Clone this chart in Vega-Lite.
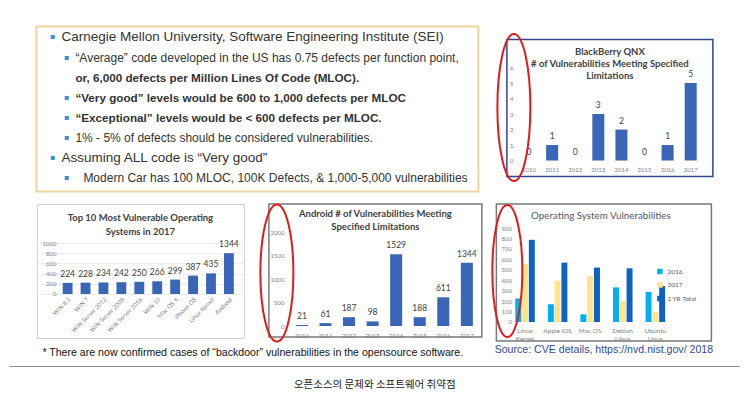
{
  "$schema": "https://vega.github.io/schema/vega-lite/v6.json",
  "background": "white",
  "padding": {"left": 8.5, "top": 23.5, "right": 0, "bottom": 0},
  "spacing": 6.5,
  "center": true,
  "resolve": {"legend": {"color": "independent"}},
  "vconcat": [
    {
      "hconcat": [
        {
          "width": 442,
          "height": 165,
          "view": {"stroke": "#f0d49c", "strokeWidth": 2, "fill": "#ffffff"},
          "data": {"values": [
            {"line": 1, "level": 1, "bullet": true, "weight": "normal", "extra_indent": false, "text": "Carnegie Mellon University, Software Engineering Institute (SEI)"},
            {"line": 2, "level": 2, "bullet": true, "weight": "normal", "extra_indent": false, "text": "“Average” code developed in the US has 0.75 defects per function point,"},
            {"line": 3, "level": 2, "bullet": false, "weight": "bold", "extra_indent": false, "text": "or, 6,000 defects per Million Lines Of Code (MLOC)."},
            {"line": 4, "level": 2, "bullet": true, "weight": "bold", "extra_indent": false, "text": "“Very good” levels would be 600 to 1,000 defects per MLOC"},
            {"line": 5, "level": 2, "bullet": true, "weight": "bold", "extra_indent": false, "text": "“Exceptional” levels would be < 600 defects per MLOC."},
            {"line": 6, "level": 2, "bullet": true, "weight": "normal", "extra_indent": false, "text": "1% - 5% of defects should be considered vulnerabilities."},
            {"line": 7, "level": 1, "bullet": true, "weight": "normal", "extra_indent": false, "text": "Assuming ALL code is “Very good”"},
            {"line": 8, "level": 2, "bullet": true, "weight": "normal", "extra_indent": true, "text": "Modern Car has 100 MLOC, 100K Defects, & 1,000-5,000 vulnerabilities"}
          ]},
          "encoding": {
            "x": {"field": "level", "type": "quantitative", "scale": {"domain": [-0.786, 30.786], "nice": false, "zero": false}, "axis": null},
            "y": {"field": "line", "type": "quantitative", "scale": {"domain": [0.454, 8.646], "reverse": true, "nice": false, "zero": false}, "axis": null}
          },
          "layer": [
            {
              "transform": [{"filter": "datum.weight == 'normal' && !datum.extra_indent"}],
              "mark": {"type": "text", "align": "left", "baseline": "middle", "font": "Liberation Sans", "color": "#333333"},
              "encoding": {
                "text": {"field": "text", "type": "nominal"},
                "size": {"field": "level", "type": "ordinal", "scale": {"domain": [1, 2], "range": [13.5, 12]}, "legend": null}
              }
            },
            {
              "transform": [{"filter": "datum.extra_indent"}],
              "mark": {"type": "text", "align": "left", "baseline": "middle", "dx": 8, "font": "Liberation Sans", "fontSize": 12, "color": "#333333"},
              "encoding": {"text": {"field": "text", "type": "nominal"}}
            },
            {
              "transform": [{"filter": "datum.weight == 'bold'"}],
              "mark": {"type": "text", "align": "left", "baseline": "middle", "font": "Liberation Sans", "fontWeight": "bold", "fontSize": 11.7, "color": "#333333"},
              "encoding": {"text": {"field": "text", "type": "nominal"}}
            },
            {
              "transform": [{"filter": "datum.bullet"}],
              "mark": {"type": "text", "align": "center", "baseline": "middle", "dx": -9, "font": "DejaVu Sans", "fontSize": 8, "color": "#3c8dd0"},
              "encoding": {"text": {"value": "▪"}}
            }
          ]
        },
        {
          "vconcat": [
            {
              "width": 206,
              "height": 1,
              "data": {"values": [{"spacer": 1}]},
              "mark": {"type": "point", "opacity": 0},
              "encoding": {}
            },
            {
              "width": 206,
              "height": 137,
              "view": {"stroke": "#2f4593", "strokeWidth": 1.5},
              "title": {"text": ["BlackBerry QNX", "# of Vulnerabilities Meeting Specified", "Limitations"], "anchor": "middle", "frame": "group", "offset": -50, "lineHeight": 12},
              "layer": [
                {
                  "data": {"values": [
                    {"year": "2010", "vulnerabilities": 0},
                    {"year": "2011", "vulnerabilities": 1},
                    {"year": "2012", "vulnerabilities": 0},
                    {"year": "2013", "vulnerabilities": 3},
                    {"year": "2014", "vulnerabilities": 2},
                    {"year": "2015", "vulnerabilities": 0},
                    {"year": "2016", "vulnerabilities": 1},
                    {"year": "2017", "vulnerabilities": 5}
                  ]},
                  "encoding": {
                    "x": {"field": "year", "type": "ordinal", "scale": {"paddingInner": 0.48, "paddingOuter": 0.7}, "axis": {"title": null, "labelAngle": 0, "labelBaseline": "top", "labelPadding": 0, "offset": -10}},
                    "y": {"field": "vulnerabilities", "type": "quantitative", "scale": {"domain": [-1.03, 7.81], "nice": false}, "axis": {"title": null, "values": [0, 1, 2, 3, 4, 5, 6], "format": "d", "offset": -7, "labelPadding": 1}}
                  },
                  "layer": [
                    {"mark": {"type": "bar", "color": "#3a66b7"}},
                    {"mark": {"type": "text", "baseline": "alphabetic", "dy": -6, "fontSize": 8.5, "color": "#404040"}, "encoding": {"text": {"field": "vulnerabilities", "type": "quantitative"}}}
                  ]
                },
                {
                  "data": {"values": [{"highlight": "y axis"}]},
                  "mark": {"type": "point", "shape": "M0,-1A0.2245,1,0,1,1,0,1A0.2245,1,0,1,1,0,-1Z", "filled": false, "color": "#e3191c", "strokeWidth": 2, "opacity": 1, "size": 21609},
                  "encoding": {
                    "x": {"datum": 0.034, "type": "quantitative", "scale": {"domain": [0, 1], "nice": false, "zero": false}, "axis": null},
                    "y": {"datum": 3.42, "type": "quantitative", "axis": {"title": null, "values": [0, 1, 2, 3, 4, 5, 6], "format": "d", "offset": -7, "labelPadding": 1}}
                  }
                }
              ],
              "resolve": {"scale": {"x": "independent"}}
            }
          ],
          "spacing": 12,
          "bounds": "flush"
        }
      ],
      "spacing": 12.5
    },
    {
      "hconcat": [
        {
          "hconcat": [
            {
              "width": 207,
              "height": 134,
              "view": {"stroke": "#d0d0d0", "strokeWidth": 1},
              "title": {"text": ["Top 10 Most Vulnerable Operating", "Systems in 2017"], "anchor": "middle", "frame": "group", "offset": -32, "lineHeight": 14},
              "data": {"values": [
                {"os": "WIN 8.1", "vulnerabilities": 224, "vulnerabilities_as_drawn": 218},
                {"os": "WIN 7", "vulnerabilities": 228, "vulnerabilities_as_drawn": 222},
                {"os": "WIN Server 2012", "vulnerabilities": 234, "vulnerabilities_as_drawn": 226},
                {"os": "WIN Server 2008", "vulnerabilities": 242, "vulnerabilities_as_drawn": 232},
                {"os": "WIN Server 2016", "vulnerabilities": 250, "vulnerabilities_as_drawn": 240},
                {"os": "WIN 10", "vulnerabilities": 266, "vulnerabilities_as_drawn": 250},
                {"os": "Mac OS X", "vulnerabilities": 299, "vulnerabilities_as_drawn": 283},
                {"os": "iPhone OS", "vulnerabilities": 387, "vulnerabilities_as_drawn": 360},
                {"os": "Linux Kernel", "vulnerabilities": 435, "vulnerabilities_as_drawn": 405},
                {"os": "Android", "vulnerabilities": 1344, "vulnerabilities_as_drawn": 800}
              ]},
              "encoding": {
                "x": {"field": "os", "type": "nominal", "sort": null, "scale": {"paddingInner": 0.45, "paddingOuter": 1.158, "align": 0.72}, "axis": {"title": null, "labelAngle": -45, "labelAlign": "right", "labelBaseline": "top", "labelPadding": 2, "offset": -44}},
                "y": {"field": "vulnerabilities_as_drawn", "type": "quantitative", "scale": {"domain": [-863, 1765], "nice": false}, "axis": {"title": null, "values": [0, 200, 400, 600, 800, 1000], "format": "d", "offset": -21, "labelPadding": 2, "grid": true, "gridColor": "#ededed"}}
              },
              "layer": [
                {"mark": {"type": "bar", "color": "#3a66b7"}},
                {"mark": {"type": "text", "baseline": "alphabetic", "dy": -6, "fontSize": 8.5, "color": "#404040"}, "encoding": {"text": {"field": "vulnerabilities", "type": "quantitative"}}}
              ]
            },
            {
              "width": 213,
              "height": 133,
              "view": {"stroke": "#7a7a7a", "strokeWidth": 1.5},
              "title": {"text": ["Android # of Vulnerabilities Meeting", "Specified Limitations"], "anchor": "middle", "frame": "group", "offset": -31, "lineHeight": 13},
              "layer": [
                {
                  "data": {"values": [
                    {"year": "2010", "vulnerabilities": 21},
                    {"year": "2011", "vulnerabilities": 61},
                    {"year": "2012", "vulnerabilities": 187},
                    {"year": "2013", "vulnerabilities": 98},
                    {"year": "2014", "vulnerabilities": 1529},
                    {"year": "2015", "vulnerabilities": 188},
                    {"year": "2016", "vulnerabilities": 611},
                    {"year": "2017", "vulnerabilities": 1344}
                  ]},
                  "encoding": {
                    "x": {"field": "year", "type": "ordinal", "scale": {"paddingInner": 0.49, "paddingOuter": 0.764, "align": 0.75}, "axis": {"title": null, "labelAngle": 0, "labelBaseline": "top", "labelPadding": 0, "offset": -5}},
                    "y": {"field": "vulnerabilities", "type": "quantitative", "scale": {"domain": [-234, 2596], "nice": false}, "axis": {"title": null, "values": [0, 500, 1000, 1500, 2000], "format": "d", "offset": -16, "labelPadding": 1}}
                  },
                  "layer": [
                    {"mark": {"type": "bar", "color": "#3a66b7"}},
                    {"mark": {"type": "text", "baseline": "alphabetic", "dy": -6, "fontSize": 8.5, "color": "#404040"}, "encoding": {"text": {"field": "vulnerabilities", "type": "quantitative"}}}
                  ]
                },
                {
                  "data": {"values": [{"highlight": "y axis"}]},
                  "mark": {"type": "point", "shape": "M0,-1A0.241,1,0,1,1,0,1A0.241,1,0,1,1,0,-1Z", "filled": false, "color": "#e3191c", "strokeWidth": 2, "opacity": 1, "size": 18769},
                  "encoding": {
                    "x": {"datum": 0.0376, "type": "quantitative", "scale": {"domain": [0, 1], "nice": false, "zero": false}, "axis": null},
                    "y": {"datum": 1128, "type": "quantitative", "axis": {"title": null, "values": [0, 500, 1000, 1500, 2000], "format": "d", "offset": -16, "labelPadding": 1}}
                  }
                }
              ],
              "resolve": {"scale": {"x": "independent"}}
            }
          ],
          "spacing": 25,
          "bounds": "flush",
          "title": {"text": "* There are now confirmed cases of “backdoor” vulnerabilities in the opensource software.", "orient": "bottom", "anchor": "start", "font": "Liberation Sans", "fontSize": 10.6, "fontWeight": "normal", "color": "#111111", "offset": 1.5, "dx": 6}
        },
        {
          "hconcat": [
            {
              "width": 215,
              "height": 137,
              "view": {"stroke": "#7a7a7a", "strokeWidth": 1.5},
              "title": {"text": "Operating System Vulnerabilities", "fontWeight": "normal", "fontSize": 9.8, "color": "#595959", "anchor": "middle", "frame": "group", "offset": -19.5, "dx": -3},
              "layer": [
                {
                  "data": {"values": [
                    {"os": "Linux Kernel", "period": "2016", "vulnerabilities": 225},
                    {"os": "Linux Kernel", "period": "2017", "vulnerabilities": 556},
                    {"os": "Linux Kernel", "period": "2 YR Total", "vulnerabilities": 787},
                    {"os": "Apple iOS", "period": "2016", "vulnerabilities": 170},
                    {"os": "Apple iOS", "period": "2017", "vulnerabilities": 395},
                    {"os": "Apple iOS", "period": "2 YR Total", "vulnerabilities": 569},
                    {"os": "Mac OS", "period": "2016", "vulnerabilities": 74},
                    {"os": "Mac OS", "period": "2017", "vulnerabilities": 440},
                    {"os": "Mac OS", "period": "2 YR Total", "vulnerabilities": 521},
                    {"os": "Debian Linux", "period": "2016", "vulnerabilities": 331},
                    {"os": "Debian Linux", "period": "2017", "vulnerabilities": 199},
                    {"os": "Debian Linux", "period": "2 YR Total", "vulnerabilities": 514},
                    {"os": "Ubuntu Linux", "period": "2016", "vulnerabilities": 289},
                    {"os": "Ubuntu Linux", "period": "2017", "vulnerabilities": 96},
                    {"os": "Ubuntu Linux", "period": "2 YR Total", "vulnerabilities": 344}
                  ]},
                  "mark": {"type": "bar"},
                  "encoding": {
                    "x": {"field": "os", "type": "nominal", "sort": null, "scale": {"paddingInner": 0.4, "paddingOuter": 1.61, "align": 0.29}, "axis": {"title": null, "labelAngle": 0, "labelBaseline": "top", "labelPadding": 0, "offset": -14, "labelFontSize": 6.5, "labelLineHeight": 8, "labelExpr": "indexof(datum.label, 'Linux') >= 0 ? split(datum.label, ' ') : datum.label"}},
                    "xOffset": {"field": "period", "type": "nominal", "sort": ["2016", "2017", "2 YR Total"], "scale": {"paddingInner": 0.12}},
                    "y": {"field": "vulnerabilities", "type": "quantitative", "scale": {"domain": [-182, 1130], "nice": false}, "axis": {"title": null, "values": [0, 100, 200, 300, 400, 500, 600, 700, 800, 900], "format": "d", "offset": -16, "labelPadding": 1}},
                    "color": {"field": "period", "type": "nominal", "scale": {"domain": ["2016", "2017", "2 YR Total"], "range": ["#00b0f0", "#ffe48c", "#0e62c2"]}, "legend": {"title": null, "orient": "none", "legendX": 160, "legendY": 64, "symbolType": "square", "symbolSize": 30, "labelFontSize": 6.5, "labelColor": "#595959", "rowPadding": 6.5, "labelOffset": 4, "padding": 0}}
                  }
                },
                {
                  "data": {"values": [{"highlight": "y axis"}]},
                  "mark": {"type": "point", "shape": "M0,-1A0.227,1,0,1,1,0,1A0.227,1,0,1,1,0,-1Z", "filled": false, "color": "#e3191c", "strokeWidth": 2, "opacity": 1, "size": 17424},
                  "encoding": {
                    "x": {"datum": 0.051, "type": "quantitative", "scale": {"domain": [0, 1], "nice": false, "zero": false}, "axis": null},
                    "y": {"datum": 488, "type": "quantitative", "axis": {"title": null, "values": [0, 100, 200, 300, 400, 500, 600, 700, 800, 900], "format": "d", "offset": -16, "labelPadding": 1}}
                  }
                }
              ],
              "resolve": {"scale": {"x": "independent"}}
            }
          ],
          "bounds": "flush",
          "resolve": {"legend": {"color": "independent"}},
          "title": {"text": "Source: CVE details, https://nvd.nist.gov/  2018", "orient": "bottom", "anchor": "end", "font": "Liberation Sans", "fontSize": 10.6, "fontWeight": "normal", "color": "#2e4a9e", "offset": 2.5, "dx": 1}
        }
      ],
      "spacing": 4.5,
      "resolve": {"legend": {"color": "independent"}}
    },
    {
      "width": 730,
      "height": 37,
      "data": {"values": [{"caption": "오픈소스의 문제와 소프트웨어 취약점"}]},
      "layer": [
        {
          "mark": {"type": "rule", "color": "#8a8a8a", "strokeWidth": 1},
          "encoding": {"y": {"datum": 1, "type": "quantitative", "scale": {"domain": [0, 1], "nice": false}, "axis": null}}
        },
        {
          "mark": {"type": "text", "font": "Noto Sans CJK KR", "fontSize": 10.5, "color": "#1a1a1a"},
          "encoding": {"text": {"field": "caption", "type": "nominal"}}
        }
      ]
    }
  ],
  "config": {
    "view": {"stroke": null},
    "font": "Lato",
    "axis": {"labelFont": "Lato", "labelColor": "#7f7f7f", "labelFontSize": 6, "domain": false, "ticks": false, "grid": false, "labelOverlap": false},
    "title": {"font": "Lato", "fontWeight": "bold", "fontSize": 9.5, "color": "#404040"}
  }
}
